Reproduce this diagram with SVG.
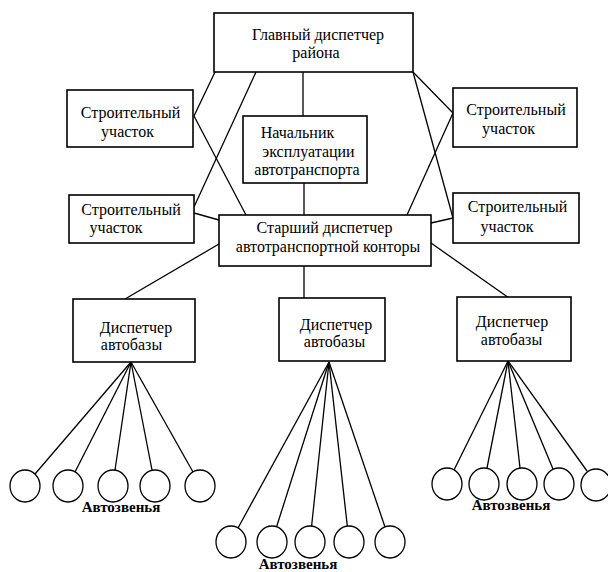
<svg xmlns="http://www.w3.org/2000/svg" width="608" height="572" viewBox="0 0 608 572">
<style>
rect{fill:#fff;stroke:#000;stroke-width:1.6}
line{stroke:#000;stroke-width:1.3}
ellipse{fill:#fff;stroke:#000;stroke-width:1.3}
text{font-family:"Liberation Serif","Times New Roman",serif;font-size:16px;fill:#000;text-anchor:middle}
.lab{font-weight:bold;font-size:15px}
</style>
<rect x="0" y="0" width="608" height="572" style="fill:#fff;stroke:none"/>
<g id="connectors">
<line x1="215" y1="72" x2="194" y2="116"/>
<line x1="194" y1="116" x2="246" y2="215"/>
<line x1="256" y1="72" x2="194" y2="207"/>
<line x1="194" y1="213" x2="219" y2="220"/>
<line x1="303" y1="72" x2="303" y2="116"/>
<line x1="304" y1="183" x2="304" y2="215"/>
<line x1="413" y1="72" x2="453" y2="113"/>
<line x1="413" y1="72" x2="453" y2="218"/>
<line x1="453" y1="113" x2="407" y2="215"/>
<line x1="453" y1="218" x2="431" y2="223"/>
<line x1="219" y1="244" x2="125" y2="299"/>
<line x1="304" y1="266" x2="304" y2="298"/>
<line x1="431" y1="243" x2="509" y2="298"/>
<line x1="131" y1="362" x2="35" y2="474"/>
<line x1="131" y1="362" x2="75" y2="472"/>
<line x1="131" y1="362" x2="115" y2="470"/>
<line x1="131" y1="362" x2="152" y2="470"/>
<line x1="131" y1="362" x2="193" y2="472"/>
<line x1="329" y1="362" x2="238" y2="528"/>
<line x1="329" y1="362" x2="276.5" y2="527"/>
<line x1="329" y1="362" x2="311.6" y2="526"/>
<line x1="329" y1="362" x2="347.3" y2="526"/>
<line x1="329" y1="362" x2="385" y2="527"/>
<line x1="508" y1="361" x2="454" y2="470"/>
<line x1="508" y1="361" x2="487" y2="468"/>
<line x1="508" y1="361" x2="520" y2="468"/>
<line x1="508" y1="361" x2="553" y2="469"/>
<line x1="508" y1="361" x2="587" y2="471"/>
</g>
<g id="glavny">
<rect x="214" y="13" width="199" height="59"/>
<text x="318" y="40">Главный диспетчер</text>
<text x="316" y="58">района</text>
</g>
<g id="uchastok-lt">
<rect x="67" y="90" width="126" height="57"/>
<text x="130.5" y="118">Строительный</text>
<text x="127.5" y="137">участок</text>
</g>
<g id="uchastok-lb">
<rect x="69" y="195" width="125" height="48"/>
<text x="131" y="215">Строительный</text>
<text x="116" y="233">участок</text>
</g>
<g id="nachalnik">
<rect x="243" y="116" width="124" height="67"/>
<text x="297.5" y="138">Начальник</text>
<text x="308.5" y="157">эксплуатации</text>
<text x="307" y="175">автотранспорта</text>
</g>
<g id="uchastok-rt">
<rect x="453" y="88" width="124" height="59"/>
<text x="516" y="115">Строительный</text>
<text x="508.5" y="134">участок</text>
</g>
<g id="uchastok-rb">
<rect x="453" y="193" width="126" height="50"/>
<text x="517.5" y="212">Строительный</text>
<text x="507" y="232">участок</text>
</g>
<g id="starshy">
<rect x="219" y="215" width="212" height="51"/>
<text x="324.5" y="233">Старший диспетчер</text>
<text x="328" y="252">автотранспортной конторы</text>
</g>
<g id="disp-l">
<rect x="73" y="299" width="122" height="63"/>
<text x="136" y="333">Диспетчер</text>
<text x="131.5" y="350">автобазы</text>
</g>
<g id="disp-m">
<rect x="279" y="298" width="106" height="63"/>
<text x="336" y="330">Диспетчер</text>
<text x="334.5" y="347">автобазы</text>
</g>
<g id="disp-r">
<rect x="457" y="297" width="114" height="64"/>
<text x="512" y="327">Диспетчер</text>
<text x="511.5" y="345">автобазы</text>
</g>
<g id="avtozvenya-l">
<ellipse cx="25" cy="486" rx="15" ry="16"/>
<ellipse cx="68" cy="486" rx="15" ry="16"/>
<ellipse cx="113" cy="486" rx="15" ry="16"/>
<ellipse cx="155" cy="486" rx="15" ry="16"/>
<ellipse cx="200" cy="486" rx="15" ry="16"/>
<text class="lab" x="121" y="512">Автозвенья</text>
</g>
<g id="avtozvenya-m">
<ellipse cx="231" cy="542" rx="15" ry="16"/>
<ellipse cx="272" cy="542" rx="15" ry="16"/>
<ellipse cx="310" cy="542" rx="15" ry="16"/>
<ellipse cx="349" cy="542" rx="15" ry="16"/>
<ellipse cx="390" cy="542" rx="15" ry="16"/>
<text class="lab" x="298" y="569">Автозвенья</text>
</g>
<g id="avtozvenya-r">
<ellipse cx="447" cy="484" rx="15" ry="16"/>
<ellipse cx="484" cy="484" rx="15" ry="16"/>
<ellipse cx="522" cy="484" rx="15" ry="16"/>
<ellipse cx="559" cy="484" rx="15" ry="16"/>
<ellipse cx="596" cy="485" rx="15" ry="16"/>
<text class="lab" x="511" y="510">Автозвенья</text>
</g>
</svg>
